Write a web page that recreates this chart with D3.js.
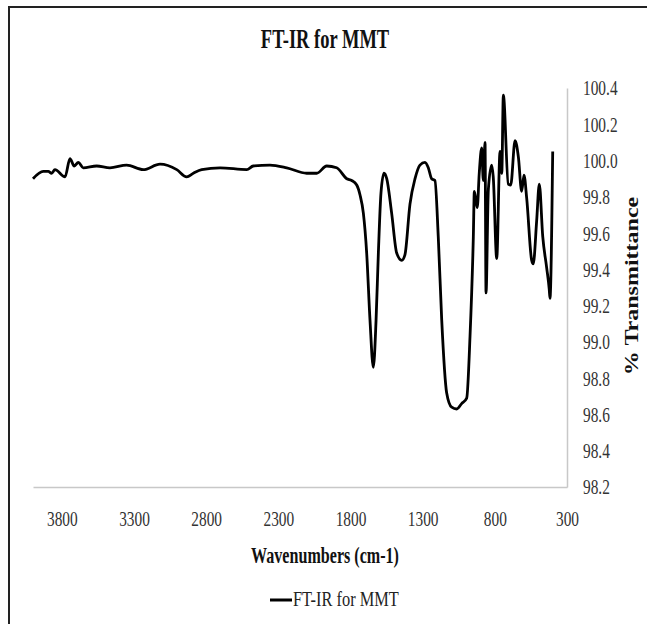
<!DOCTYPE html>
<html>
<head>
<meta charset="utf-8">
<script src="https://cdn.jsdelivr.net/npm/d3@7"></script>
<style>
  html, body { margin: 0; padding: 0; background: #fff; }
  svg { display: block; }
</style>
</head>
<body>
<svg id="chart" width="647" height="624"></svg>
<script>
// ---- data ----
const chartTitle = "FT-IR for MMT";
const seriesName = "FT-IR for MMT";
const xTitle = "Wavenumbers (cm-1)";
const yTitle = "% Transmittance";
const xTicks = [3800, 3300, 2800, 2300, 1800, 1300, 800, 300];
const yTicks = [98.2, 98.4, 98.6, 98.8, 99.0, 99.2, 99.4, 99.6, 99.8, 100.0, 100.2, 100.4];
const xDomain = [4000, 300];
const yDomain = [98.2, 100.4];

const wavenumbers = [4000, 3929, 3894, 3871, 3848, 3778, 3744, 3714, 3686, 3652, 3559, 3467, 3351, 3236, 3120, 3004, 2935, 2889, 2831, 2704, 2519, 2474, 2358, 2242, 2104, 2034, 1965, 1896, 1826, 1792, 1757, 1734, 1711, 1688, 1665, 1642, 1623, 1607, 1589, 1568, 1549, 1515, 1480, 1445, 1423, 1388, 1353, 1319, 1284, 1261, 1238, 1215, 1192, 1168, 1134, 1099, 1064, 1030, 995, 972, 949, 942, 922, 908, 891, 880, 868, 861, 845, 822, 811, 787, 764, 752, 741, 707, 690, 660, 637, 614, 598, 579, 545, 534, 510, 492, 468, 441, 423, 418, 399];
const transmittance = [99.90, 99.94, 99.94, 99.93, 99.95, 99.91, 100.01, 99.97, 99.99, 99.96, 99.97, 99.96, 99.975, 99.95, 99.98, 99.95, 99.91, 99.93, 99.95, 99.96, 99.95, 99.97, 99.975, 99.96, 99.93, 99.93, 99.97, 99.96, 99.90, 99.89, 99.865, 99.81, 99.71, 99.49, 99.12, 98.86, 99.12, 99.49, 99.82, 99.93, 99.90, 99.71, 99.49, 99.45, 99.48, 99.76, 99.90, 99.975, 99.99, 99.96, 99.90, 99.89, 99.58, 99.12, 98.72, 98.64, 98.63, 98.66, 98.69, 99.03, 99.58, 99.83, 99.74, 99.93, 100.07, 99.89, 100.10, 99.27, 99.84, 99.975, 99.91, 99.46, 100.05, 99.93, 100.36, 99.87, 99.865, 100.11, 100.02, 99.83, 99.92, 99.79, 99.45, 99.43, 99.67, 99.87, 99.58, 99.41, 99.29, 99.24, 100.05];

const data = wavenumbers.map((w, i) => ({ w, t: transmittance[i] }));

// ---- layout ----
const plot = { left: 33, right: 567, top: 88, bottom: 487 };
const SX = 0.75; // horizontal condensation of the text in the reference
const FONT = "'Liberation Serif', 'Times New Roman', serif";

const svg = d3.select("#chart");

// outer frame (only top & left edges visible)
svg.append("path")
  .attr("d", "M9,624 L9,7 L647,7")
  .attr("fill", "none").attr("stroke", "#222").attr("stroke-width", 2);

const x = d3.scaleLinear().domain(xDomain).range([plot.left, plot.right]);
const y = d3.scaleLinear().domain(yDomain).range([plot.bottom, plot.top]);

// x axis
const gx = svg.append("g").attr("transform", `translate(0,${plot.bottom})`)
  .call(d3.axisBottom(x).tickValues(xTicks).tickSize(0).tickFormat(d3.format("d")));
gx.select(".domain").attr("stroke", "#c8c8c8").attr("stroke-width", 1.5);
gx.selectAll("text")
  .attr("y", 39).attr("dy", null)
  .attr("transform", `scale(${SX},1)`)
  .attr("font-family", FONT).attr("font-size", 20.5).attr("fill", "#333");

// y axis (right)
const gy = svg.append("g").attr("transform", `translate(${plot.right},0)`)
  .call(d3.axisRight(y).tickValues(yTicks).tickSize(0).tickFormat(d3.format(".1f")));
gy.select(".domain").attr("stroke", "#c8c8c8").attr("stroke-width", 1.5);
gy.selectAll("text")
  .attr("x", 16 / SX)
  .attr("dy", "0.34em")
  .attr("transform", `scale(${SX},1)`)
  .attr("font-family", FONT).attr("font-size", 20.5).attr("fill", "#333");

// line
svg.append("path")
  .datum(data)
  .attr("fill", "none")
  .attr("stroke", "#000")
  .attr("stroke-width", 2.8)
  .attr("stroke-linejoin", "round")
  .attr("d", d3.line().x(d => x(d.w)).y(d => y(d.t)).curve(d3.curveMonotoneX));

// title
svg.append("g").attr("transform", `translate(325,48) scale(0.66,1)`)
  .append("text").attr("text-anchor", "middle")
  .attr("font-family", FONT).attr("font-weight", "bold").attr("font-size", 28)
  .attr("fill", "#111").text(chartTitle);

// x axis title
svg.append("g").attr("transform", `translate(325,563) scale(0.7,1)`)
  .append("text").attr("text-anchor", "middle")
  .attr("font-family", FONT).attr("font-weight", "bold").attr("font-size", 23)
  .attr("fill", "#111").text(xTitle);

// y axis title
svg.append("g").attr("transform", `translate(632,286) scale(${SX},1) rotate(-90)`)
  .append("text").attr("text-anchor", "middle").attr("dy", "0.35em")
  .attr("font-family", FONT).attr("font-weight", "bold").attr("font-size", 24)
  .attr("fill", "#111").text(yTitle);

// legend
svg.append("line").attr("x1", 270).attr("x2", 292).attr("y1", 600).attr("y2", 600)
  .attr("stroke", "#000").attr("stroke-width", 3);
svg.append("g").attr("transform", `translate(293,606) scale(0.78,1)`)
  .append("text").attr("text-anchor", "start")
  .attr("font-family", FONT).attr("font-size", 21)
  .attr("fill", "#222").text(seriesName);
</script>
</body>
</html>
